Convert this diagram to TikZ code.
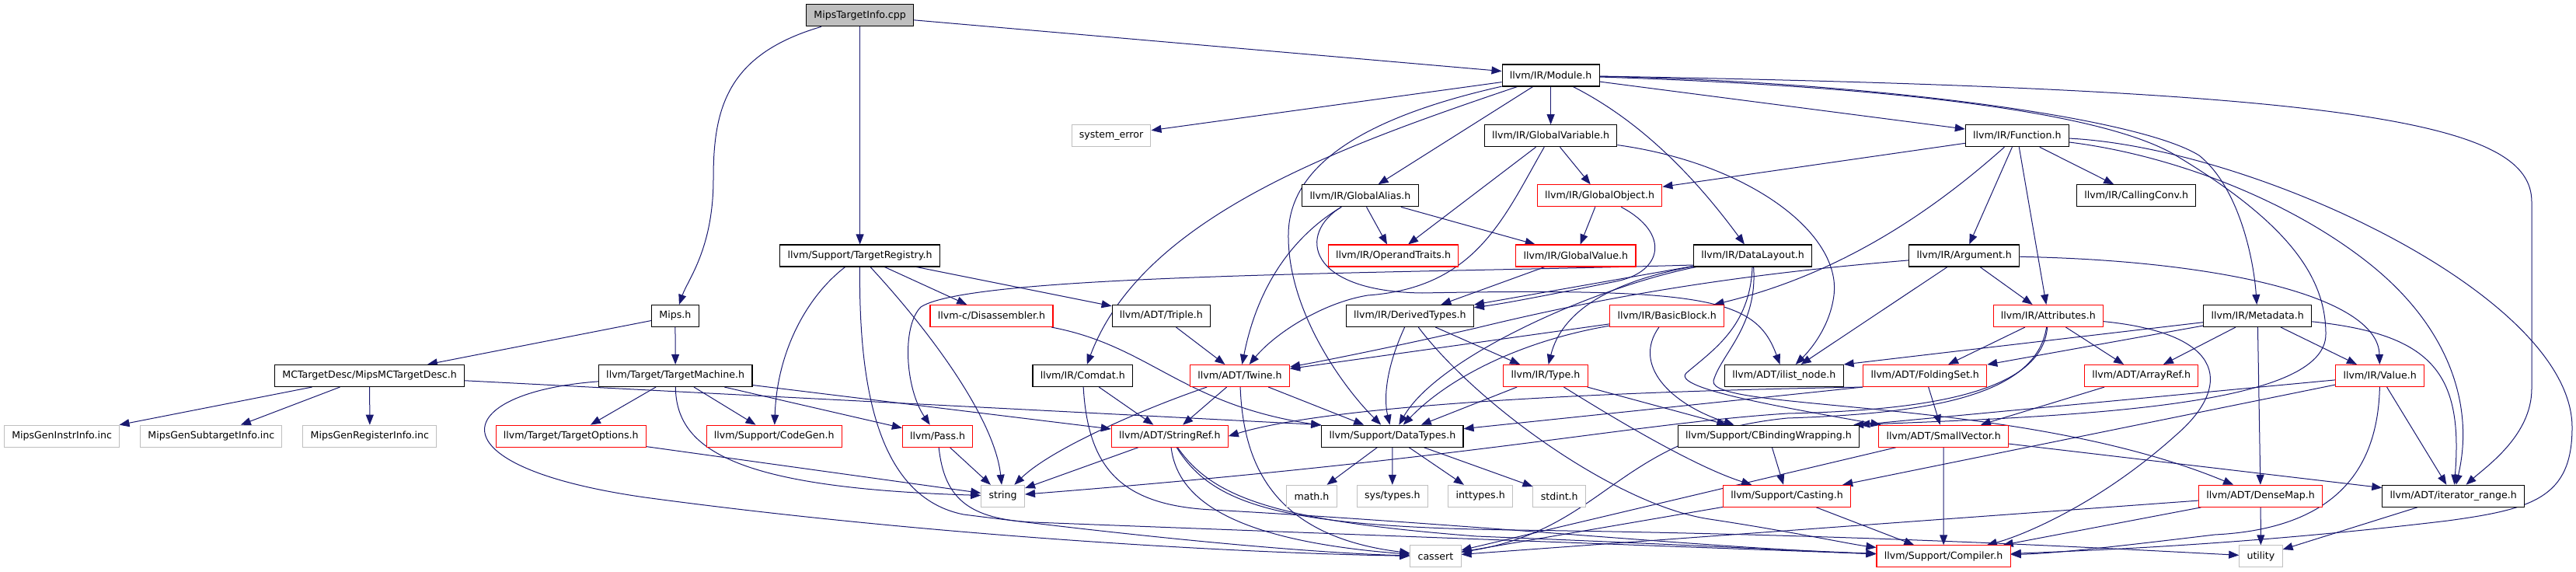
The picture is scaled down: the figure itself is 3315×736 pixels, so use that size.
\documentclass[tikz,border=0pt]{standalone}
\usepackage{fontspec}
\setmainfont{DejaVu Sans}
\usetikzlibrary{arrows.meta}
\definecolor{depB}{RGB}{25,25,112}
\definecolor{boxG}{RGB}{191,191,191}
\definecolor{boxR}{RGB}{255,0,0}
\pgfdeclarelayer{bg}
\pgfsetlayers{bg,main}

\begin{document}
\begin{tikzpicture}[x=1pt,y=-1pt,>={Triangle[length=13pt,width=10pt]},
  hdr/.style={draw=black,line width=1.1pt,fill=white,font=\fontsize{12.6}{14}\selectfont,inner xsep=9.8pt,inner ysep=0pt,minimum height=28pt},
  hdrR/.style={hdr,draw=boxR},
  hdrG/.style={hdr,draw=boxG,line width=1pt},
  top/.style={hdr,fill=boxG},
  dep/.style={->,draw=depB,line width=1pt}]
\useasboundingbox (0,0) rectangle (3315,736);
% rows of the include graph, one y per level
\node[top]  (cpp)       at (1106.6,19.8)  {MipsTargetInfo.cpp};
\node[hdr]  (mod)       at (1995.6,97)    {llvm/IR/Module.h};
\node[hdrG] (syserr)    at (1430,174.7)   {system\_error};
\node[hdr]  (gvar)      at (1995.6,174.7) {llvm/IR/GlobalVariable.h};
\node[hdr]  (func)      at (2595.8,174.7) {llvm/IR/Function.h};
\node[hdr]  (galias)    at (1750.5,251.8) {llvm/IR/GlobalAlias.h};
\node[hdrR] (gobj)      at (2058.6,251.8) {llvm/IR/GlobalObject.h};
\node[hdr]  (cconv)     at (2749.2,251.8) {llvm/IR/CallingConv.h};
\node[hdr]  (treg)      at (1106.6,329)   {llvm/Support/TargetRegistry.h};
\node[hdrR] (optr)      at (1793,329)     {llvm/IR/OperandTraits.h};
\node[hdrR] (gval)      at (2027.9,329)   {llvm/IR/GlobalValue.h};
\node[hdr]  (dlay)      at (2255.6,329)   {llvm/IR/DataLayout.h};
\node[hdr]  (arg)       at (2527.8,329)   {llvm/IR/Argument.h};
\node[hdr]  (mips)      at (868.9,406.5)  {Mips.h};
\node[hdrR] (disasm)    at (1276,406.5)   {llvm-c/Disassembler.h};
\node[hdr]  (triple)    at (1494.4,406.5) {llvm/ADT/Triple.h};
\node[hdr]  (dtypes)    at (1814.3,406.5) {llvm/IR/DerivedTypes.h};
\node[hdrR] (bblock)    at (2145.2,406.5) {llvm/IR/BasicBlock.h};
\node[hdrR] (attr)      at (2635.8,406.5) {llvm/IR/Attributes.h};
\node[hdr]  (meta)      at (2905.2,406.5) {llvm/IR/Metadata.h};
\node[hdr]  (mcdesc)    at (475.6,483.5)  {MCTargetDesc/MipsMCTargetDesc.h};
\node[hdr]  (tmach)     at (869.2,483.5)  {llvm/Target/TargetMachine.h};
\node[hdr]  (comdat)    at (1393.3,483.5) {llvm/IR/Comdat.h};
\node[hdrR] (twine)     at (1595.5,483.5) {llvm/ADT/Twine.h};
\node[hdrR] (type)      at (1989,483.5)   {llvm/IR/Type.h};
\node[hdr]  (ilist)     at (2295.8,483.5) {llvm/ADT/ilist\_node.h};
\node[hdrR] (fset)      at (2477.2,483.5) {llvm/ADT/FoldingSet.h};
\node[hdrR] (aref)      at (2755.7,483.5) {llvm/ADT/ArrayRef.h};
\node[hdrR] (value)     at (3062.7,483.5) {llvm/IR/Value.h};
\node[hdrG] (geninstr)  at (79.7,561.2)   {MipsGenInstrInfo.inc};
\node[hdrG] (gensub)    at (271.8,561.2)  {MipsGenSubtargetInfo.inc};
\node[hdrG] (genreg)    at (475.9,561.2)  {MipsGenRegisterInfo.inc};
\node[hdrR] (topts)     at (734.8,561.2)  {llvm/Target/TargetOptions.h};
\node[hdrR] (codegen)   at (996.3,561.2)  {llvm/Support/CodeGen.h};
\node[hdrR] (pass)      at (1206.6,561.2) {llvm/Pass.h};
\node[hdrR] (sref)      at (1505.3,561.2) {llvm/ADT/StringRef.h};
\node[hdr]  (datatypes) at (1791.9,561.2) {llvm/Support/DataTypes.h};
\node[hdr]  (cbind)     at (2276,561.2)   {llvm/Support/CBindingWrapping.h};
\node[hdrR] (svec)      at (2501.2,561.2) {llvm/ADT/SmallVector.h};
\node[hdrG] (string)    at (1290.6,638.3) {string};
\node[hdrG] (math)      at (1688,638.3)   {math.h};
\node[hdrG] (systypes)  at (1791.8,638.3) {sys/types.h};
\node[hdrG] (inttypes)  at (1905.2,638.3) {inttypes.h};
\node[hdrG] (stdint)    at (2006.7,638.3) {stdint.h};
\node[hdrR] (casting)   at (2299.5,638.3) {llvm/Support/Casting.h};
\node[hdrR] (dmap)      at (2909.1,638.3) {llvm/ADT/DenseMap.h};
\node[hdr]  (irange)    at (3157.2,638.3) {llvm/ADT/iterator\_range.h};
\node[hdrG] (cassert)   at (1847.4,715.8) {cassert};
\node[hdrR] (compiler)  at (2501.1,715.8) {llvm/Support/Compiler.h};
\node[hdrG] (utility)   at (2909.4,715.8) {utility};
\begin{pgfonlayer}{bg}
% MipsTargetInfo.cpp
\draw[dep] (cpp) .. controls (935,70) and (918,140) .. (918,230) .. controls (918,320) and (885,360) .. (mips);
\draw[dep] (cpp) -- (treg);
\draw[dep] (cpp) -- (mod);
% Module.h
\draw[dep] (mod) -- (syserr);
\draw[dep] (mod) -- (gvar);
\draw[dep] (mod) -- (galias);
\draw[dep] (mod) .. controls (2120,160) and (2190,240) .. (dlay);
\draw[dep] (mod) -- (func);
\draw[dep] (mod) .. controls (2400,105) and (2750,150) .. (2830,200) .. controls (2880,240) and (2900,330) .. (meta);
\draw[dep] (mod) .. controls (3050,115) and (3258,160) .. (3258,260) -- (3258,500) .. controls (3258,560) and (3200,600) .. (irange);
\draw[dep] (mod) .. controls (2400,110) and (2700,140) .. (2800,200) .. controls (2950,290) and (2993,360) .. (2993,430) .. controls (2993,520) and (2700,535) .. ([xshift=-8pt]cbind.north east);
\draw[dep] (mod) .. controls (1720,190) and (1470,280) .. (comdat);
\draw[dep] (mod) .. controls (1760,150) and (1660,210) .. (1658,300) .. controls (1656,400) and (1730,500) .. (datatypes);
% GlobalVariable.h, GlobalAlias.h
\draw[dep] (gvar) -- (optr);
\draw[dep] (gvar) -- (gobj);
\draw[dep] (gvar) .. controls (1935,280) and (1900,370) .. (1760,380) .. controls (1700,390) and (1640,430) .. (twine);
\draw[dep] (gvar) .. controls (2250,210) and (2370,300) .. (2360,380) .. controls (2355,420) and (2330,450) .. (ilist);
\draw[dep] (galias) -- (optr);
\draw[dep] (galias) -- (gval);
\draw[dep] (galias) .. controls (1670,300) and (1620,360) .. (twine);
\draw[dep] (galias) .. controls (1670,300) and (1680,375) .. (1830,377) .. controls (2200,370) and (2260,385) .. (ilist);
\draw[dep] (gobj) -- (gval);
\draw[dep] (gobj) .. controls (2150,300) and (2140,350) .. (2080,362) .. controls (2000,378) and (1940,390) .. (dtypes);
\draw[dep] (gval) -- (dtypes);
% DataLayout.h
\draw[dep] ([yshift=-12pt]dlay.west) .. controls (1800,352) and (1250,352) .. (1185,395) .. controls (1160,420) and (1165,500) .. (pass);
\draw[dep] (dlay) -- (dtypes);
\draw[dep] (dlay) .. controls (2050,370) and (1850,460) .. (datatypes);
\draw[dep] (dlay) .. controls (2040,368) and (2005,420) .. (type);
\draw[dep] (dlay) .. controls (2252,420) and (2205,450) .. (2170,480) .. controls (2150,500) and (2300,525) .. (svec);
\draw[dep] (dlay) .. controls (2262,420) and (2215,455) .. (2205,490) .. controls (2198,530) and (2600,510) .. (dmap);
% Function.h, Argument.h
\draw[dep] (func) -- (gobj);
\draw[dep] (func) .. controls (2500,260) and (2380,350) .. (bblock);
\draw[dep] (func) -- (arg);
\draw[dep] (func) -- (attr);
\draw[dep] (func) -- (cconv);
\draw[dep] (func) .. controls (2800,200) and (2950,260) .. (3050,340) .. controls (3150,420) and (3185,520) .. (irange);
\draw[dep] (func) .. controls (2900,190) and (3310,380) .. (3310,550) .. controls (3310,640) and (3260,655) .. (3150,670) .. controls (2900,700) and (2700,708) .. (compiler);
\draw[dep] (arg) .. controls (2250,352) and (2080,378) .. (1900,422) .. controls (1800,445) and (1700,465) .. (twine);
\draw[dep] (arg) -- (ilist);
\draw[dep] (arg) -- (attr);
\draw[dep] (arg) .. controls (2850,335) and (3060,380) .. (value);
% Attributes.h, Metadata.h, Value.h
\draw[dep] (attr) -- (fset);
\draw[dep] (attr) -- (aref);
\draw[dep] (attr) .. controls (2870,430) and (2870,500) .. (2800,560) .. controls (2700,650) and (2600,690) .. (compiler);
\draw[dep] (attr) .. controls (2620,510) and (2480,532) .. (2300,538) .. controls (2080,560) and (2070,680) .. (cassert);
\draw[dep] (attr) .. controls (2628,505) and (2480,528) .. (2300,532) .. controls (2100,545) and (1900,590) .. (string);
\draw[dep] (meta) -- (ilist.north east);
\draw[dep] (meta) -- (fset);
\draw[dep] (meta) -- (aref);
\draw[dep] (meta) -- (value);
\draw[dep] (meta) -- (dmap);
\draw[dep] (meta) .. controls (3130,430) and (3170,480) .. (irange);
\draw[dep] (value) -- (irange);
\draw[dep] (value) .. controls (3060,600) and (3010,680) .. (2850,688) .. controls (2750,700) and (2650,712) .. (compiler);
\draw[dep] (value) -- (cbind.north east);
\draw[dep] (value) -- (casting);
% ADT headers
\draw[dep] (aref) -- (svec);
\draw[dep] (fset) -- (svec);
\draw[dep] (fset.south west) .. controls (2000,505) and (1700,525) .. (sref.east);
\draw[dep] (fset.south west) -- (datatypes);
\draw[dep] (svec) -- (compiler);
\draw[dep] (svec) -- (cassert);
\draw[dep] (svec) -- (irange);
\draw[dep] (dmap) -- (compiler);
\draw[dep] (dmap) -- (utility);
\draw[dep] (dmap) -- (cassert);
\draw[dep] (irange) -- (utility);
% types
\draw[dep] (dtypes) -- (type);
\draw[dep] (dtypes) .. controls (1785,470) and (1780,510) .. (datatypes);
\draw[dep] (dtypes) .. controls (1900,520) and (2080,650) .. (2200,668) .. controls (2300,683) and (2380,700) .. (compiler);
\draw[dep] (type) -- (datatypes);
\draw[dep] (type) .. controls (2080,540) and (2180,600) .. (casting);
\draw[dep] (type) -- (cbind);
\draw[dep] (bblock) -- (twine);
\draw[dep] (bblock) .. controls (1950,440) and (1860,490) .. (datatypes);
\draw[dep] (bblock) .. controls (2100,470) and (2150,520) .. (cbind);
% Comdat.h, Twine.h, StringRef.h
\draw[dep] (comdat) -- (sref);
\draw[dep] (comdat) .. controls (1400,600) and (1440,650) .. (1560,656) .. controls (1900,675) and (2200,705) .. (compiler);
\draw[dep] (twine) -- (sref);
\draw[dep] (twine) -- (datatypes);
\draw[dep] (twine) .. controls (1460,530) and (1350,580) .. (string);
\draw[dep] (twine) .. controls (1600,600) and (1640,690) .. (cassert);
\draw[dep] (triple) -- (twine);
\draw[dep] (sref) -- (string);
\draw[dep] (sref) .. controls (1515,640) and (1580,695) .. (cassert);
\draw[dep] (sref) .. controls (1560,640) and (1640,670) .. (1900,690) .. controls (2150,700) and (2300,708) .. (compiler);
\draw[dep] (sref) .. controls (1560,650) and (1650,678) .. (1950,682) .. controls (2400,688) and (2700,705) .. (utility);
% Pass.h, TargetOptions.h, TargetMachine.h
\draw[dep] (pass) -- (string);
\draw[dep] (pass) .. controls (1215,640) and (1245,668) .. (1330,672) .. controls (1800,690) and (2200,705) .. (compiler);
\draw[dep] (topts) -- (string);
\draw[dep] (tmach) -- (topts);
\draw[dep] (tmach) -- (codegen);
\draw[dep] (tmach) -- (pass);
\draw[dep] (tmach) -- (sref);
\draw[dep] (tmach) .. controls (870,580) and (950,628) .. (string);
\draw[dep] (tmach) .. controls (580,505) and (550,600) .. (830,640) .. controls (1200,690) and (1600,712) .. (cassert);
% Mips.h, MipsMCTargetDesc.h
\draw[dep] (mips) -- (mcdesc);
\draw[dep] (mips) -- (tmach);
\draw[dep] (mcdesc) -- (geninstr);
\draw[dep] (mcdesc) -- (gensub);
\draw[dep] (mcdesc) -- (genreg);
\draw[dep] (mcdesc) -- (datatypes.north west);
% TargetRegistry.h
\draw[dep] (treg) .. controls (1040,380) and (1000,450) .. (codegen);
\draw[dep] (treg) .. controls (1105,500) and (1130,640) .. (1240,662) .. controls (1500,695) and (1700,712) .. (cassert);
\draw[dep] (treg) .. controls (1200,430) and (1280,540) .. (string);
\draw[dep] (treg) -- (disasm);
\draw[dep] (treg) -- (triple);
\draw[dep] (disasm) .. controls (1480,445) and (1520,520) .. (datatypes);
% DataTypes.h and Support
\draw[dep] (datatypes) -- (math);
\draw[dep] (datatypes) -- (systypes);
\draw[dep] (datatypes) -- (inttypes);
\draw[dep] (datatypes) -- (stdint);
\draw[dep] (cbind) -- (casting);
\draw[dep] (casting) -- (cassert);
\draw[dep] (casting) -- (compiler);
\end{pgfonlayer}
\end{tikzpicture}
\end{document}
